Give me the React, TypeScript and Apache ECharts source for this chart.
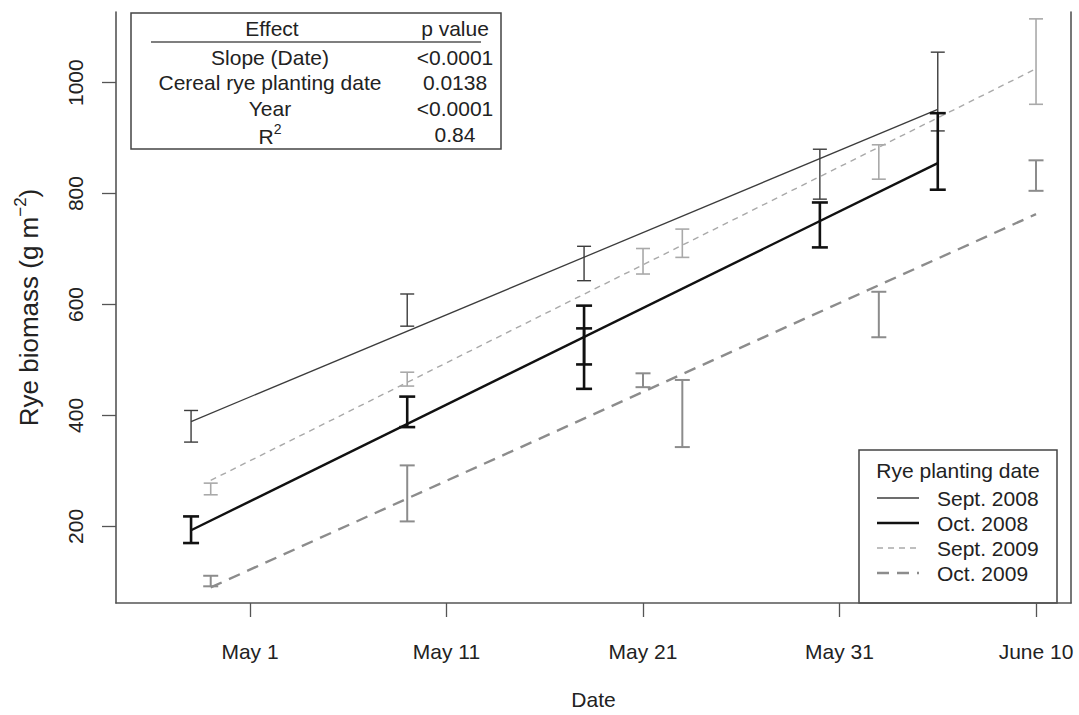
import React, { useEffect, useRef } from "react";
import * as echarts from "echarts";

// ---------- data ----------
const xTickDays = [0, 10, 20, 30, 40]; // days after May 1
const xTickLabels = ["May 1", "May 11", "May 21", "May 31", "June 10"];
const yTicks = [200, 400, 600, 800, 1000];

const groupNames = ["Sept. 2008", "Oct. 2008", "Sept. 2009", "Oct. 2009"];

// Sept. 2008 planting
const sept2008Days = [-3, 8, 17, 29, 35];
const sept2008Lo = [352, 561, 643, 790, 913];
const sept2008Hi = [409, 619, 705, 880, 1055];
const sept2008FitDays = [-3, 35];
const sept2008FitVals = [389, 952];

// Oct. 2008 planting
const oct2008Days = [-3, 8, 17, 17, 29, 35];
const oct2008Lo = [170, 379, 492, 448, 703, 807];
const oct2008Hi = [218, 434, 598, 557, 784, 945];
const oct2008FitDays = [-3, 35];
const oct2008FitVals = [193, 855];

// Sept. 2009 planting
const sept2009Days = [-2, 8, 20, 22, 32, 40];
const sept2009Lo = [257, 453, 655, 685, 826, 961];
const sept2009Hi = [278, 478, 701, 736, 888, 1115];
const sept2009FitDays = [-2, 40];
const sept2009FitVals = [283, 1025];

// Oct. 2009 planting
const oct2009Days = [-2, 8, 20, 22, 32, 40];
const oct2009Lo = [92, 209, 451, 343, 541, 805];
const oct2009Hi = [111, 310, 476, 464, 623, 860];
const oct2009FitDays = [-2, 40];
const oct2009FitVals = [90, 763];

// table
const tableHeader = ["Effect", "p value"];
const tableEffects = ["Slope (Date)", "Cereal rye planting date", "Year", "R2"];
const tablePValues = ["<0.0001", "0.0138", "<0.0001", "0.84"];

// ---------- styles ----------
const FONT = "'Liberation Sans', Arial, Helvetica, sans-serif";
const TEXT = "#222";
const FRAME = "#555";

const groupStyles = [
  { color: "#3c3c3c", lineWidth: 1.3, dash: "solid" as any, barWidth: 1.4, cap: 7 },
  { color: "#111111", lineWidth: 2.4, dash: "solid" as any, barWidth: 2.6, cap: 8 },
  { color: "#a9a9a9", lineWidth: 1.4, dash: [6, 5] as any, barWidth: 1.6, cap: 7 },
  { color: "#8c8c8c", lineWidth: 2.4, dash: [12, 8] as any, barWidth: 2.0, cap: 7.5 },
];

const groups = [
  { days: sept2008Days, lo: sept2008Lo, hi: sept2008Hi, fd: sept2008FitDays, fv: sept2008FitVals },
  { days: oct2008Days, lo: oct2008Lo, hi: oct2008Hi, fd: oct2008FitDays, fv: oct2008FitVals },
  { days: sept2009Days, lo: sept2009Lo, hi: sept2009Hi, fd: sept2009FitDays, fv: sept2009FitVals },
  { days: oct2009Days, lo: oct2009Lo, hi: oct2009Hi, fd: oct2009FitDays, fv: oct2009FitVals },
];

const Y_MIN = 61.9;
const Y_MAX = 1127.4;
const X_MIN = -6.82;
const X_MAX = 41.78;

function buildOption() {
  const series: any[] = [];
  groups.forEach((g, gi) => {
    const st = groupStyles[gi];
    series.push({
      type: "line",
      name: groupNames[gi],
      data: g.fd.map((d, i) => [d, g.fv[i]]),
      symbol: "none",
      lineStyle: { color: st.color, width: st.lineWidth, type: st.dash },
      z: 2,
      silent: true,
    });
    series.push({
      type: "custom",
      name: groupNames[gi] + " SE",
      data: g.days.map((d, i) => [d, g.lo[i], g.hi[i]]),
      encode: { x: 0, y: [1, 2] },
      z: 3,
      silent: true,
      renderItem: (params: any, api: any) => {
        const x = api.value(0);
        const a = api.coord([x, api.value(1)]);
        const b = api.coord([x, api.value(2)]);
        const w = st.cap;
        const style = { stroke: st.color, lineWidth: st.barWidth, fill: "none" };
        return {
          type: "group",
          children: [
            { type: "line", shape: { x1: a[0], y1: a[1], x2: b[0], y2: b[1] }, style },
            { type: "line", shape: { x1: a[0] - w, y1: a[1], x2: a[0] + w, y2: a[1] }, style },
            { type: "line", shape: { x1: b[0] - w, y1: b[1], x2: b[0] + w, y2: b[1] }, style },
          ],
        };
      },
    });
  });

  const txt = (text: string, x: number, y: number, align = "center", extra: any = {}) => ({
    type: "text",
    x,
    y,
    style: {
      text,
      fontSize: 21,
      fontFamily: FONT,
      fill: TEXT,
      align,
      verticalAlign: "middle",
      ...extra,
    },
  });

  // table
  const col1X = 270;
  const col2X = 455;
  const tableRowsY = [57, 82, 108, 136];
  const tableChildren: any[] = [
    {
      type: "rect",
      shape: { x: 131, y: 13, width: 370, height: 136 },
      style: { fill: "#fff", stroke: "#444", lineWidth: 1.5 },
    },
    {
      type: "line",
      shape: { x1: 151, y1: 42, x2: 481, y2: 42 },
      style: { stroke: "#555", lineWidth: 1.5 },
    },
    txt(tableHeader[0], col1X + 2, 28),
    txt(tableHeader[1], col2X, 28),
  ];
  tableEffects.forEach((e, i) => {
    if (e === "R2") {
      tableChildren.push({
        type: "text",
        x: col1X,
        y: tableRowsY[i],
        style: {
          text: "{a|R}{s|2}",
          align: "center",
          verticalAlign: "middle",
          rich: {
            a: { fontSize: 21, fontFamily: FONT, fill: TEXT, lineHeight: 28 },
            s: { fontSize: 14, fontFamily: FONT, fill: TEXT, lineHeight: 14, verticalAlign: "top" },
          },
        },
      });
    } else {
      tableChildren.push(txt(e, col1X, tableRowsY[i]));
    }
    tableChildren.push(txt(tablePValues[i], col2X, i === 3 ? 134 : tableRowsY[i]));
  });

  // legend
  const legRowsY = [498, 523, 548, 573];
  const legendChildren: any[] = [
    {
      type: "rect",
      shape: { x: 859, y: 450, width: 198, height: 153 },
      style: { fill: "#fff", stroke: "#444", lineWidth: 1.5 },
    },
    txt("Rye planting date", 958, 470),
  ];
  groupNames.forEach((n, i) => {
    const st = groupStyles[i];
    legendChildren.push({
      type: "line",
      shape: { x1: 877, y1: legRowsY[i], x2: 919, y2: legRowsY[i] },
      style: {
        stroke: st.color,
        lineWidth: st.lineWidth,
        lineDash: Array.isArray(st.dash) ? st.dash : null,
      },
    });
    legendChildren.push(txt(n, 937, legRowsY[i], "left"));
  });

  return {
    animation: false,
    backgroundColor: "#ffffff",
    grid: { left: 116, right: 8, top: 12, bottom: 101, containLabel: false, show: false },
    xAxis: {
      type: "value",
      min: X_MIN,
      max: X_MAX,
      axisLine: { show: true, onZero: false, lineStyle: { color: FRAME, width: 1.6 } },
      axisTick: {
        show: true,
        length: 14,
        customValues: xTickDays,
        lineStyle: { color: FRAME, width: 1.3 },
      },
      axisLabel: {
        customValues: xTickDays,
        formatter: (v: number) => {
          const idx = xTickDays.indexOf(Math.round(v));
          return idx >= 0 ? xTickLabels[idx] : "";
        },
        margin: 38,
        fontSize: 21,
        fontFamily: FONT,
        color: TEXT,
      },
      splitLine: { show: false },
      name: "Date",
      nameLocation: "middle",
      nameGap: 86,
      nameTextStyle: { fontSize: 21, fontFamily: FONT, color: TEXT },
    },
    yAxis: [
      {
        type: "value",
        min: Y_MIN,
        max: Y_MAX,
        axisLine: { show: true, onZero: false, lineStyle: { color: FRAME, width: 1.6 } },
        axisTick: {
          show: true,
          length: 14,
          customValues: yTicks,
          lineStyle: { color: FRAME, width: 1.3 },
        },
        axisLabel: {
          customValues: yTicks,
          formatter: (v: number) => String(Math.round(v)),
          rotate: 90,
          margin: 30,
          fontSize: 21,
          fontFamily: FONT,
          color: TEXT,
        },
        splitLine: { show: false },
        name: "{a|Rye biomass (g m}{s|−2}{a|)}",
        nameLocation: "middle",
        nameRotate: 90,
        nameGap: 70,
        nameTextStyle: {
          rich: {
            a: { fontSize: 26, fontFamily: FONT, color: TEXT, lineHeight: 34 },
            s: { fontSize: 17, fontFamily: FONT, color: TEXT, lineHeight: 17, verticalAlign: "top" },
          },
        },
      },
      {
        type: "value",
        position: "right",
        min: Y_MIN,
        max: Y_MAX,
        axisLine: { show: true, onZero: false, lineStyle: { color: FRAME, width: 1.6 } },
        axisTick: { show: false },
        axisLabel: { show: false },
        splitLine: { show: false },
      },
    ],
    series,
    graphic: [
      { type: "group", z: 10, children: tableChildren },
      { type: "group", z: 10, children: legendChildren },
    ],
  };
}

export default function App() {
  const ref = useRef<HTMLDivElement>(null);
  useEffect(() => {
    if (!ref.current) return;
    const chart = echarts.init(ref.current, null, { renderer: "svg" });
    chart.setOption(buildOption() as any);
    return () => chart.dispose();
  }, []);
  return (
    <div
      ref={ref}
      style={{ position: "fixed", left: 0, top: 0, width: 1079, height: 715, background: "#fff" }}
    />
  );
}
